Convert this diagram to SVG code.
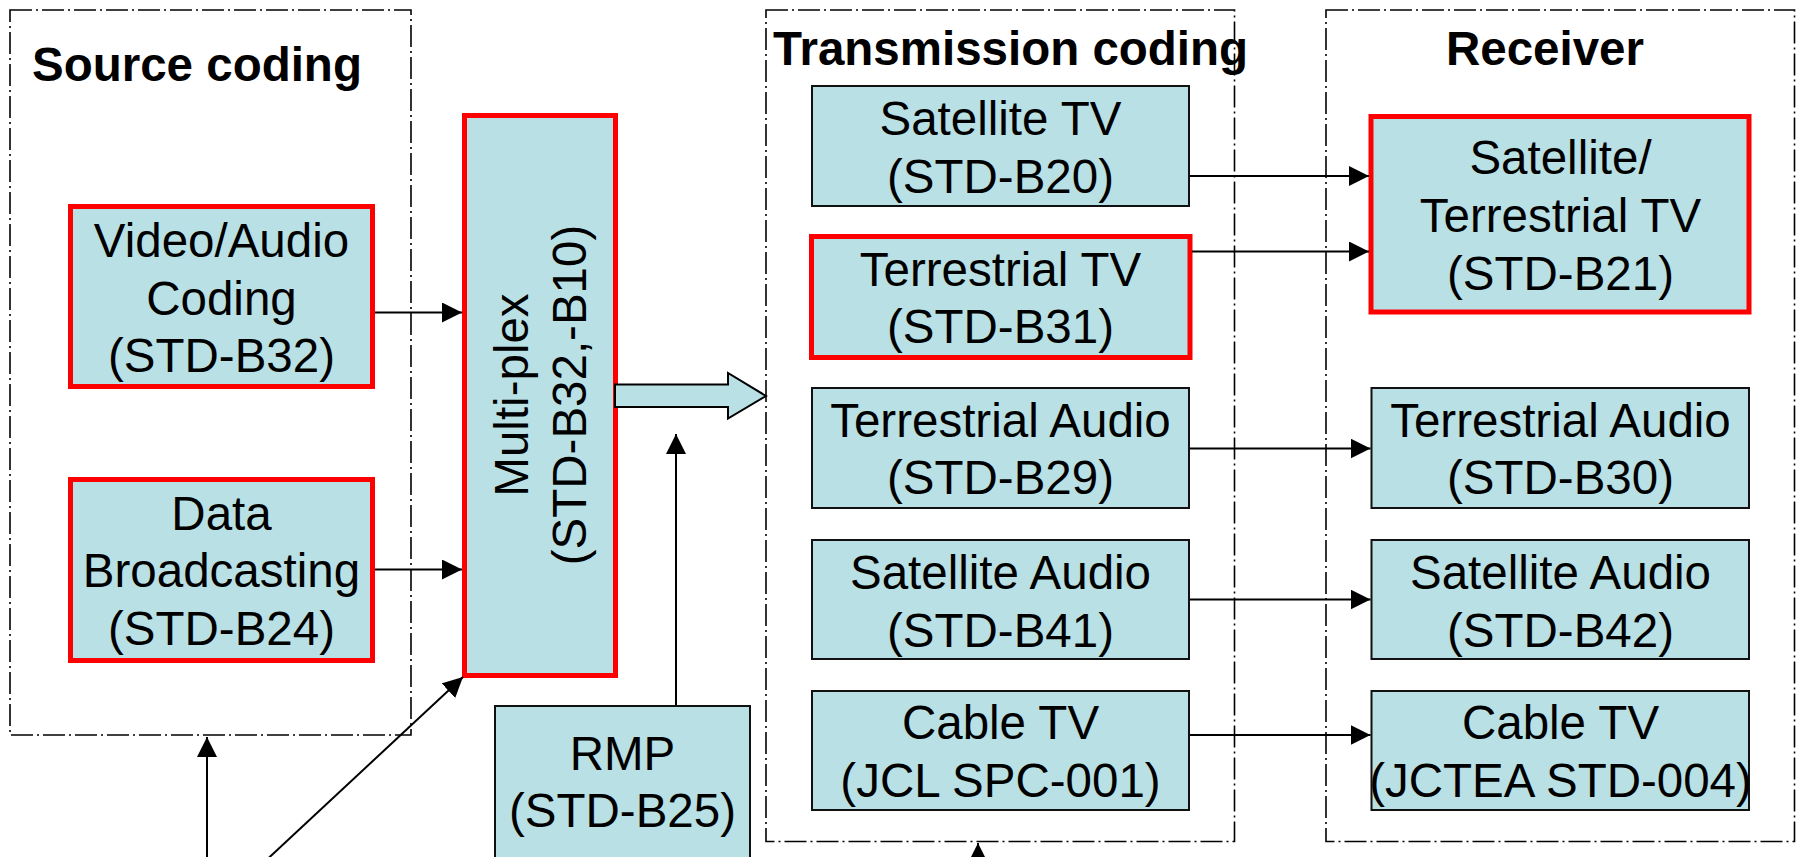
<svg xmlns="http://www.w3.org/2000/svg" width="1800" height="857" viewBox="0 0 1800 857">
<style>
.grp{fill:none;stroke:#000;stroke-width:1.6;stroke-dasharray:22 4 2 4}
.box{fill:#B9E0E4;stroke:#111;stroke-width:2}
.red{fill:#B9E0E4;stroke:#FF0000;stroke-width:5}
.t{font-family:"Liberation Sans",Arial,sans-serif;font-size:47.5px;fill:#000;text-anchor:middle}
.h{font-family:"Liberation Sans",Arial,sans-serif;font-size:47.5px;font-weight:bold;fill:#000}
.c{fill:none;stroke:#000;stroke-width:2}
</style>
<defs>
<marker id="ah" markerUnits="userSpaceOnUse" markerWidth="20" markerHeight="20" refX="20" refY="10" orient="auto" viewBox="0 0 20 20">
<path d="M0,0 L20,10 L0,20 z" fill="#000"/>
</marker>
</defs>
<rect width="1800" height="857" fill="#fff"/>

<g id="source-coding">
<rect class="grp" x="10" y="10" width="401" height="725"/>
<text class="h" x="32" y="81">Source coding</text>
</g>
<g id="transmission-coding">
<rect class="grp" x="766" y="10" width="468.5" height="831.5"/>
<text class="h" x="773" y="65">Transmission coding</text>
</g>
<g id="receiver">
<rect class="grp" x="1326" y="10" width="468.5" height="831.5"/>
<text class="h" x="1545" y="65" text-anchor="middle">Receiver</text>
</g>

<g id="video-audio">
<rect class="red" x="70.5" y="206.5" width="302" height="180"/>
<text class="t" x="221.5" y="257">Video/Audio</text>
<text class="t" x="221.5" y="315">Coding</text>
<text class="t" x="221.5" y="372">(STD-B32)</text>
</g>
<g id="data-broadcasting">
<rect class="red" x="70.5" y="479.5" width="302" height="181"/>
<text class="t" x="221.5" y="530">Data</text>
<text class="t" x="221.5" y="587">Broadcasting</text>
<text class="t" x="221.5" y="645">(STD-B24)</text>
</g>
<g id="multiplex">
<rect class="red" x="464.5" y="115.5" width="151" height="560"/>
<g transform="translate(540,395) rotate(-90)">
<text class="t" x="0" y="-12">Multi-plex</text>
<text class="t" x="0" y="46">(STD-B32,-B10)</text>
</g>
</g>
<g id="rmp">
<rect class="box" x="495" y="706" width="255" height="160"/>
<text class="t" x="622.5" y="770">RMP</text>
<text class="t" x="622.5" y="827">(STD-B25)</text>
</g>

<g id="satellite-tv">
<rect class="box" x="812" y="86" width="377" height="120"/>
<text class="t" x="1000.5" y="135">Satellite TV</text>
<text class="t" x="1000.5" y="192.5">(STD-B20)</text>
</g>
<g id="terrestrial-tv">
<rect class="red" x="811.5" y="236.5" width="378.5" height="121"/>
<text class="t" x="1000.5" y="286">Terrestrial TV</text>
<text class="t" x="1000.5" y="343">(STD-B31)</text>
</g>
<g id="terrestrial-audio">
<rect class="box" x="812" y="388" width="377" height="120"/>
<text class="t" x="1000.5" y="437">Terrestrial Audio</text>
<text class="t" x="1000.5" y="494">(STD-B29)</text>
</g>
<g id="satellite-audio">
<rect class="box" x="812" y="540" width="377" height="119"/>
<text class="t" x="1000.5" y="588.5">Satellite Audio</text>
<text class="t" x="1000.5" y="646.5">(STD-B41)</text>
</g>
<g id="cable-tv">
<rect class="box" x="812" y="691" width="377" height="119"/>
<text class="t" x="1000.5" y="738.5">Cable TV</text>
<text class="t" x="1000.5" y="796.5">(JCL SPC-001)</text>
</g>

<g id="rx-sat-terr-tv">
<rect class="red" x="1371" y="116.5" width="378" height="195.5"/>
<text class="t" x="1560.5" y="173.5">Satellite/</text>
<text class="t" x="1560.5" y="231.5">Terrestrial TV</text>
<text class="t" x="1560.5" y="289.5">(STD-B21)</text>
</g>
<g id="rx-terrestrial-audio">
<rect class="box" x="1371.5" y="388" width="377.5" height="120"/>
<text class="t" x="1560.5" y="437">Terrestrial Audio</text>
<text class="t" x="1560.5" y="494">(STD-B30)</text>
</g>
<g id="rx-satellite-audio">
<rect class="box" x="1371.5" y="540" width="377.5" height="119"/>
<text class="t" x="1560.5" y="588.5">Satellite Audio</text>
<text class="t" x="1560.5" y="646.5">(STD-B42)</text>
</g>
<g id="rx-cable-tv">
<rect class="box" x="1371.5" y="691" width="377.5" height="119"/>
<text class="t" x="1560.5" y="738.5">Cable TV</text>
<text class="t" x="1560.5" y="796.5">(JCTEA STD-004)</text>
</g>

<g id="connectors">
<polygon points="615,384.5 728,384.5 728,373 766,396 728,418.5 728,407 615,407" fill="#B9E0E4" stroke="#000" stroke-width="2" stroke-linejoin="miter"/>
<line class="c" x1="375" y1="312.5" x2="462" y2="312.5" marker-end="url(#ah)"/>
<line class="c" x1="375" y1="569.5" x2="462" y2="569.5" marker-end="url(#ah)"/>
<line class="c" x1="245" y1="880" x2="463" y2="677" marker-end="url(#ah)"/>
<line class="c" x1="207" y1="880" x2="207" y2="737" marker-end="url(#ah)"/>
<line class="c" x1="676" y1="705" x2="676" y2="434" marker-end="url(#ah)"/>
<line class="c" x1="978" y1="880" x2="978" y2="843" marker-end="url(#ah)"/>
<line class="c" x1="1190" y1="176" x2="1369" y2="176" marker-end="url(#ah)"/>
<line class="c" x1="1192" y1="251.5" x2="1369" y2="251.5" marker-end="url(#ah)"/>
<line class="c" x1="1190" y1="448.5" x2="1370.5" y2="448.5" marker-end="url(#ah)"/>
<line class="c" x1="1190" y1="599.5" x2="1370.5" y2="599.5" marker-end="url(#ah)"/>
<line class="c" x1="1190" y1="735" x2="1370.5" y2="735" marker-end="url(#ah)"/>
</g>
</svg>
